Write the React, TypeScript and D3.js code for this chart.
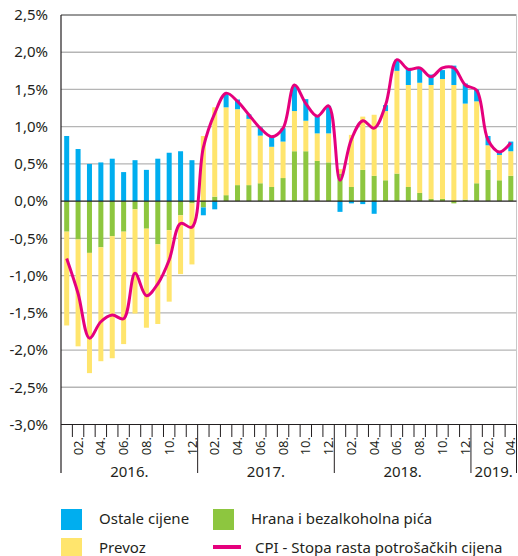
import * as d3 from 'd3';

// contributions to CPI growth, Jan 2016 - Apr 2019 (percentage points)
const hrana = [
  -0.41, -0.515, -0.695, -0.62, -0.47, -0.41, -0.11, -0.37, -0.58, -0.39, -0.19, -0.03,
  -0.085, 0.06, 0.08, 0.215, 0.215, 0.24, 0.19, 0.31, 0.67, 0.67, 0.54, 0.52,
  0.37, 0.19, 0.42, 0.34, 0.28, 0.37, 0.19, 0.11, 0.03, 0.03, -0.03, 0.02,
  0.24, 0.42, 0.28, 0.34,
];
const prevoz = [
  -1.26, -1.435, -1.615, -1.53, -1.64, -1.51, -1.4, -1.33, -1.07, -0.96, -0.79, -0.82,
  0.875, 1.2, 1.18, 1.02, 0.89, 0.64, 0.54, 0.49, 0.54, 0.41, 0.37, 0.39,
  0.06, 0.7, 0.715, 0.82, 0.93, 1.38, 1.37, 1.48, 1.53, 1.61, 1.56, 1.29,
  1.1, 0.33, 0.34, 0.33,
];
const ostale = [
  0.875, 0.7, 0.5, 0.52, 0.57, 0.39, 0.55, 0.42, 0.57, 0.65, 0.67, 0.55,
  -0.105, -0.11, 0.19, 0.13, 0.06, 0.11, 0.145, 0.18, 0.34, 0.29, 0.23, 0.37,
  -0.144, -0.03, -0.04, -0.17, 0.08, 0.15, 0.23, 0.2, 0.14, 0.12, 0.26, 0.27,
  0.16, 0.125, 0.045, 0.13,
];
const cpi = [
  -0.77, -1.24, -1.84, -1.62, -1.53, -1.58, -0.97, -1.27, -1.11, -0.79, -0.3, -0.35,
  0.72, 1.18, 1.45, 1.34, 1.16, 0.98, 0.865, 0.98, 1.56, 1.31, 1.14, 1.28,
  0.28, 0.83, 1.08, 0.98, 1.29, 1.9, 1.77, 1.79, 1.67, 1.79, 1.79, 1.56,
  1.49, 0.82, 0.66, 0.785,
];

const years = ['2016.', '2017.', '2018.', '2019.'];
const monthsInYear = [12, 12, 12, 4];
const monthNames = ['01.', '02.', '03.', '04.', '05.', '06.', '07.', '08.', '09.', '10.', '11.', '12.'];
const yTicks = [2.5, 2, 1.5, 1, 0.5, 0, -0.5, -1, -1.5, -2, -2.5, -3];

const series = [
  { key: 'hrana', label: 'Hrana i bezalkoholna pića', color: '#8dc63f', values: hrana },
  { key: 'prevoz', label: 'Prevoz', color: '#ffe56d', values: prevoz },
  { key: 'ostale', label: 'Ostale cijene', color: '#00aeef', values: ostale },
];

const W = 518;
const H = 556;
const FONT = '"Noto Sans", sans-serif';

export default function App() {
  const rows = cpi.map((_, i) => {
    const r: Record<string, number> = { i };
    series.forEach(s => (r[s.key] = s.values[i]));
    return r;
  });
  const idx = rows.map(r => r.i);

  const x = d3.scaleBand<number>().domain(idx).range([61, 516.5]).paddingInner(0.56).paddingOuter(0.28);
  const y = d3.scaleLinear().domain([-3, 2.5]).range([424.5, 15]);
  const step = x.step();
  const bw = x.bandwidth();
  const cx = (i: number) => (x(i) ?? 0) + bw / 2;
  const left = x.range()[0];
  const right = x.range()[1];

  const stacked = d3.stack<Record<string, number>>()
    .keys(series.map(s => s.key))
    .offset(d3.stackOffsetDiverging)(rows);

  const line = d3.line<number>()
    .x((_, i) => cx(i))
    .y(d => y(d))
    .curve(d3.curveCatmullRom.alpha(0.5));

  // year start indices
  const yearStart: number[] = [];
  monthsInYear.reduce((acc, n) => { yearStart.push(acc); return acc + n; }, 0);

  const monthLabels: { i: number; t: string }[] = [];
  yearStart.forEach((s, yi) => {
    for (let m = 0; m < monthsInYear[yi]; m++) {
      if (m % 2 === 1) monthLabels.push({ i: s + m, t: monthNames[m] });
    }
  });

  const boundary = (i: number) => left + step * i;

  return (
    <svg width={W} height={H} style={{ position: 'absolute', left: 0, top: 0, background: '#fff' }} fontFamily={FONT}>
      {/* grid */}
      {yTicks.filter(t => t !== 0 && t !== 2.5 && t !== -3).map(t => (
        <line key={t} x1={left} x2={right} y1={y(t)} y2={y(t)} stroke="#b5b5b5" strokeWidth={1.3} />
      ))}
      <line x1={left} x2={right} y1={y(2.5)} y2={y(2.5)} stroke="#333" strokeWidth={1} />
      <line x1={right} x2={right} y1={y(2.5)} y2={y(-3)} stroke="#c8c8c8" strokeWidth={1} />

      {/* y labels */}
      {yTicks.map(t => (
        <text key={t} x={48} y={y(t)} dy="0.35em" textAnchor="end" fontSize={15} fill="#231f20">
          {d3.format('.1f')(t).replace('.', ',').replace('−', '-')}%
        </text>
      ))}

      {/* bars */}
      {stacked.map((layer, li) => (
        <g key={layer.key} fill={series[li].color}>
          {layer.map((d, i) => (
            <rect key={i} x={x(i)} width={bw} y={y(Math.max(d[0], d[1]))}
              height={Math.abs(y(d[0]) - y(d[1]))} />
          ))}
        </g>
      ))}

      {/* zero line */}
      <line x1={left} x2={right} y1={y(0)} y2={y(0)} stroke="#231f20" strokeWidth={1.2} />

      {/* CPI */}
      <path d={line(cpi) ?? ''} fill="none" stroke="#e5007d" strokeWidth={3} strokeLinejoin="round" />

      {/* x axis */}
      <line x1={left} x2={right} y1={y(-3)} y2={y(-3)} stroke="#231f20" strokeWidth={1.2} />
      <line x1={left} x2={left} y1={y(2.5)} y2={473} stroke="#231f20" strokeWidth={1.2} />
      {d3.range(1, idx.length + 1).map(k => {
        const isYear = yearStart.includes(k) || k === idx.length;
        return (
          <line key={k} x1={boundary(k)} x2={boundary(k)} y1={y(-3)} y2={isYear ? 473 : 437}
            stroke="#231f20" strokeWidth={1} />
        );
      })}
      {monthLabels.map(m => (
        <text key={m.i} transform={`translate(${cx(m.i)},437) rotate(-90)`} textAnchor="end"
          dy="0.35em" fontSize={13} fill="#231f20">{m.t}</text>
      ))}
      {years.map((t, yi) => {
        const a = boundary(yearStart[yi]);
        const b = boundary(yearStart[yi] + monthsInYear[yi]);
        return (
          <text key={t} x={(a + b) / 2} y={477} textAnchor="middle" fontSize={15} fill="#231f20">{t}</text>
        );
      })}

      {/* legend */}
      <rect x={61} y={509} width={21} height={21} fill={series[2].color} />
      <text x={99} y={524} fontSize={15} fill="#231f20">{series[2].label}</text>
      <rect x={213} y={509} width={21} height={21} fill={series[0].color} />
      <text x={251} y={524} fontSize={15} fill="#231f20">{series[0].label}</text>
      <rect x={61} y={538} width={21} height={21} fill={series[1].color} />
      <text x={99} y={553} fontSize={15} fill="#231f20">{series[1].label}</text>
      <line x1={213} x2={241} y1={547} y2={547} stroke="#e5007d" strokeWidth={4} />
      <text x={255} y={553} fontSize={15} fill="#231f20">CPI - Stopa rasta potrošačkih cijena</text>
    </svg>
  );
}
